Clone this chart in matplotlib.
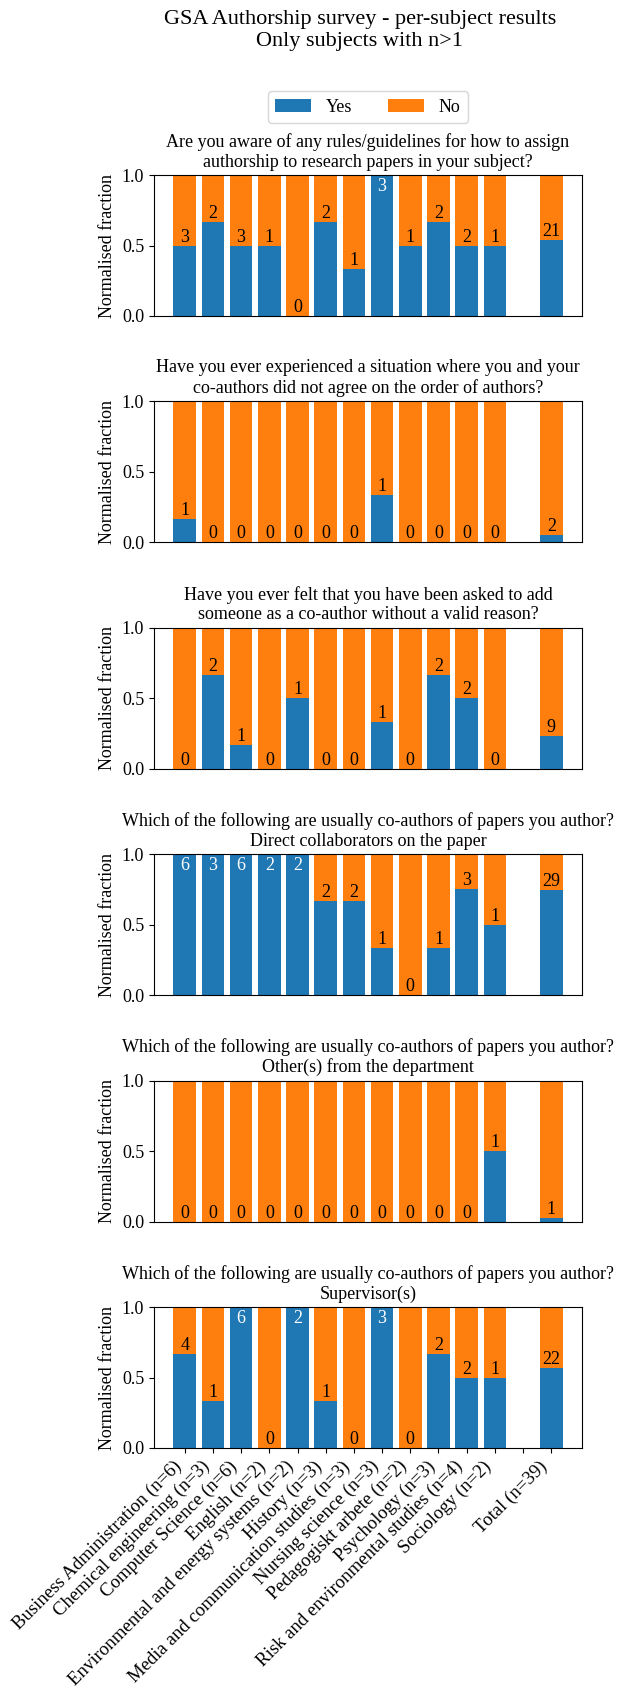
import matplotlib
matplotlib.use('Agg')
import matplotlib.pyplot as plt
import numpy as np

plt.rcParams['font.family'] = ['Liberation Serif', 'DejaVu Serif']

subjects = [
    'Business Administration (n=6)',
    'Chemical engineering (n=3)',
    'Computer Science (n=6)',
    'English (n=2)',
    'Environmental and energy systems (n=2)',
    'History (n=3)',
    'Media and communication studies (n=3)',
    'Nursing science (n=3)',
    'Pedagogiskt arbete (n=2)',
    'Psychology (n=3)',
    'Risk and environmental studies (n=4)',
    'Sociology (n=2)',
    '',
    'Total (n=39)',
]
n_resp = [6, 3, 6, 2, 2, 3, 3, 3, 2, 3, 4, 2, 0, 39]

questions = [
    'Are you aware of any rules/guidelines for how to assign\nauthorship to research papers in your subject?',
    'Have you ever experienced a situation where you and your\nco-authors did not agree on the order of authors?',
    'Have you ever felt that you have been asked to add\nsomeone as a co-author without a valid reason?',
    'Which of the following are usually co-authors of papers you author?\nDirect collaborators on the paper',
    'Which of the following are usually co-authors of papers you author?\nOther(s) from the department',
    'Which of the following are usually co-authors of papers you author?\nSupervisor(s)',
]

# number of "yes" answers per subject (gap slot = 0)
yes_rules = [3, 2, 3, 1, 0, 2, 1, 3, 1, 2, 2, 1, 0, 21]
yes_order = [1, 0, 0, 0, 0, 0, 0, 1, 0, 0, 0, 0, 0, 2]
yes_invalid = [0, 2, 1, 0, 1, 0, 0, 1, 0, 2, 2, 0, 0, 9]
yes_direct = [6, 3, 6, 2, 2, 2, 2, 1, 0, 1, 3, 1, 0, 29]
yes_dept = [0, 0, 0, 0, 0, 0, 0, 0, 0, 0, 0, 1, 0, 1]
yes_superv = [4, 1, 6, 0, 2, 1, 0, 3, 0, 2, 2, 1, 0, 22]
all_yes = [yes_rules, yes_order, yes_invalid, yes_direct, yes_dept, yes_superv]

BLUE = '#1f77b4'
ORANGE = '#ff7f0e'
W, H = 623, 1686

fig = plt.figure(figsize=(W / 100, H / 100), dpi=100)

x_all = np.arange(len(subjects))
keep = np.array([n > 0 for n in n_resp])
xs = x_all[keep]
n_arr = np.array(n_resp)[keep]

for i, (q, yes) in enumerate(zip(questions, all_yes)):
    top = 175 + i * 226.4
    ax = fig.add_axes([154 / W, 1 - (top + 141) / H, 428 / W, 141 / H])
    y = np.array(yes)[keep]
    frac = y / n_arr
    ax.bar(xs, frac, color=BLUE, label='Yes')
    ax.bar(xs, 1 - frac, bottom=frac, color=ORANGE, label='No')
    for xv, fv, cnt in zip(xs, frac, y):
        if fv >= 0.999:
            ax.annotate(str(cnt), (xv, fv), xytext=(0, -2), textcoords='offset points',
                        ha='center', va='top', color='white', fontsize=13)
        else:
            ax.text(xv, fv, str(cnt), ha='center', va='bottom', color='black', fontsize=13)
    ax.set_ylim(0, 1)
    ax.set_yticks([0, 0.5, 1.0])
    ax.tick_params(labelsize=13)
    ax.set_ylabel('Normalised fraction', fontsize=13)
    ax.set_title(q, fontsize=13)
    if i < len(questions) - 1:
        ax.set_xticks([])
    else:
        ax.set_xticks(x_all)
        ax.set_xticklabels(subjects, rotation=45, ha='right', fontsize=13.5)
    if i == 0:
        handles, labels = ax.get_legend_handles_labels()

fig.legend(handles, labels, loc='center', ncol=2, fontsize=13,
           bbox_to_anchor=(368 / W, 1 - 107 / H))
fig.text(360 / W, 1 - 10 / H, 'GSA Authorship survey - per-subject results\nOnly subjects with n>1',
         ha='center', va='top', fontsize=16)

fig.savefig('out.png', dpi=100)
